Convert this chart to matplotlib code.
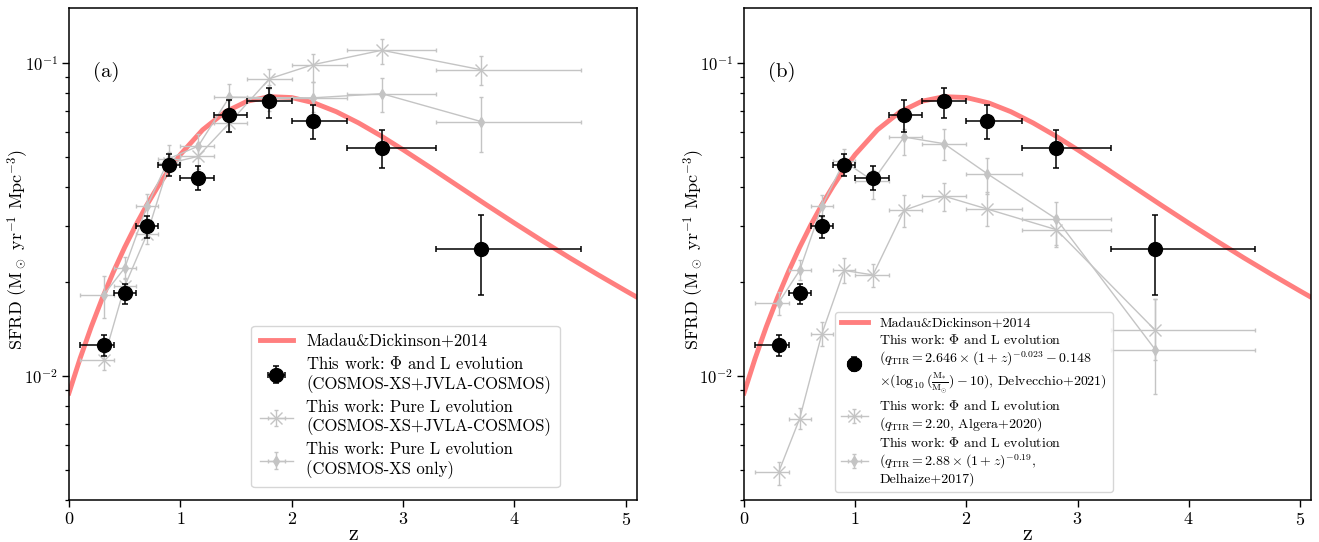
import numpy as np
import matplotlib
matplotlib.use("Agg")
import matplotlib.pyplot as plt
from matplotlib.ticker import NullFormatter

plt.rcParams['font.family'] = ['cmr10', 'DejaVu Serif']
plt.rcParams['mathtext.fontset'] = 'cm'
plt.rcParams['axes.formatter.use_mathtext'] = True
plt.rcParams['axes.unicode_minus'] = False

# redshift bins
z_mid = np.array([0.31, 0.5, 0.7, 0.9, 1.16, 1.44, 1.8, 2.19, 2.81, 3.7])
z_lo = np.array([0.1, 0.4, 0.6, 0.8, 1.0, 1.3, 1.6, 2.0, 2.5, 3.3])
z_hi = np.array([0.4, 0.6, 0.8, 1.0, 1.3, 1.6, 2.0, 2.5, 3.3, 4.6])

# this work: Phi and L evolution (Delvecchio+2021 qTIR)
sfrd_phil = np.array([0.01254, 0.01832, 0.0302, 0.0473, 0.0430, 0.0680, 0.0754, 0.0652, 0.0536, 0.0255])
sfrd_phil_up = np.array([0.01349, 0.01966, 0.0325, 0.0513, 0.0470, 0.0760, 0.0834, 0.0736, 0.0612, 0.0327])
sfrd_phil_lo = np.array([0.01156, 0.0170, 0.0276, 0.0435, 0.0392, 0.0601, 0.0668, 0.0573, 0.0462, 0.01815])

# (a) pure L evolution, COSMOS-XS+JVLA-COSMOS
sfrd_pl_all = np.array([0.01122, 0.0193, 0.0283, 0.0478, 0.0503, 0.0643, 0.0891, 0.0988, 0.1099, 0.0952])
sfrd_pl_all_up = np.array([0.01208, 0.0205, 0.0307, 0.0520, 0.0555, 0.0690, 0.0960, 0.1070, 0.1197, 0.1057])
sfrd_pl_all_lo = np.array([0.01042, 0.0182, 0.0263, 0.0440, 0.0459, 0.0600, 0.0828, 0.0869, 0.0995, 0.0851])

# (a) pure L evolution, COSMOS-XS only
sfrd_pl_xs = np.array([0.0181, 0.0221, 0.0348, 0.0495, 0.0542, 0.0778, 0.0775, 0.0774, 0.0798, 0.0650])
sfrd_pl_xs_up = np.array([0.0208, 0.0239, 0.0382, 0.0545, 0.0595, 0.0855, 0.0850, 0.0870, 0.0897, 0.0778])
sfrd_pl_xs_lo = np.array([0.01524, 0.0204, 0.0318, 0.0455, 0.0496, 0.0706, 0.0700, 0.0697, 0.0697, 0.0519])

# (b) Phi and L evolution, qTIR = 2.20 (Algera+2020)
sfrd_alg = np.array([0.00490, 0.00728, 0.01361, 0.0217, 0.0210, 0.0338, 0.0375, 0.0341, 0.0293, 0.01396])
sfrd_alg_up = np.array([0.0053, 0.00789, 0.01483, 0.0237, 0.0228, 0.0378, 0.0414, 0.0387, 0.0325, 0.0176])
sfrd_alg_lo = np.array([0.00448, 0.00676, 0.01242, 0.0198, 0.0192, 0.0299, 0.0336, 0.0300, 0.0262, 0.0112])

# (b) Phi and L evolution, qTIR = 2.88(1+z)^-0.19 (Delhaize+2017)
sfrd_del = np.array([0.0171, 0.0217, 0.0348, 0.0485, 0.0420, 0.0580, 0.0552, 0.0442, 0.0317, 0.01210])
sfrd_del_up = np.array([0.0185, 0.0234, 0.0378, 0.0530, 0.0454, 0.0616, 0.0616, 0.0498, 0.0360, 0.01762])
sfrd_del_lo = np.array([0.0156, 0.0202, 0.0321, 0.0440, 0.0368, 0.0509, 0.0489, 0.0382, 0.0257, 0.00875])

# Madau & Dickinson 2014 curve
md_z = np.array([0.0, 0.1, 0.2, 0.3, 0.4, 0.5, 0.6, 0.7, 0.8, 0.9, 1.0, 1.2, 1.4, 1.6, 1.8, 2.0,
                 2.2, 2.4, 2.6, 2.8, 3.0, 3.25, 3.5, 3.75, 4.0, 4.25, 4.5, 4.75, 5.0, 5.1])
md_sfrd = np.array([0.00880, 0.01136, 0.01433, 0.01772, 0.02152, 0.02573, 0.03030, 0.03520,
                    0.04035, 0.04565, 0.05097, 0.06114, 0.06967, 0.07548, 0.07808, 0.07756,
                    0.07457, 0.06989, 0.06435, 0.05853, 0.05281, 0.04619, 0.04029, 0.03516,
                    0.03076, 0.02699, 0.02377, 0.02103, 0.01867, 0.01782])

GREY = '#c4c4c4'


def errs(y, lo, up):
    return [y - lo, up - y]


def draw_common(ax):
    ax.plot(md_z, md_sfrd, color='#ff7f7f', lw=3.5, zorder=1, label='Madau&Dickinson+2014')


def draw_black(ax, label):
    ax.errorbar(z_mid, sfrd_phil, xerr=[z_mid - z_lo, z_hi - z_mid],
                yerr=errs(sfrd_phil, sfrd_phil_lo, sfrd_phil_up),
                fmt='o', color='k', ms=10, elinewidth=1.1, capsize=2, capthick=1.1,
                zorder=5, label=label)


def draw_grey(ax, y, lo, up, marker, ms, label):
    ax.errorbar(z_mid, y, xerr=[z_mid - z_lo, z_hi - z_mid], yerr=errs(y, lo, up),
                fmt='-', marker=marker, ms=ms, color=GREY, lw=1, elinewidth=1,
                capsize=1.5, zorder=3, label=label)


def style_axis(ax, tag):
    ax.set_yscale('log')
    ax.set_xlim(0, 5.1)
    ax.set_ylim(0.004, 0.15)
    ax.set_xlabel('z', fontsize=16)
    ax.set_ylabel(r'SFRD (M$_\odot$ yr$^{-1}$ Mpc$^{-3}$)', fontsize=13)
    ax.xaxis.set_label_coords(0.5, -0.05)
    ax.yaxis.set_label_coords(-0.066, 0.51)
    ax.tick_params(axis='x', which='major', labelsize=13, length=5, width=1, pad=3)
    ax.tick_params(axis='y', which='major', labelsize=12, length=5, width=1, pad=3)
    ax.tick_params(axis='y', which='minor', length=3, width=0.9)
    ax.yaxis.set_minor_formatter(NullFormatter())
    ax.set_xticks([0, 1, 2, 3, 4, 5])
    for s in ax.spines.values():
        s.set_linewidth(1.1)
    ax.text(0.042, 0.86, tag, transform=ax.transAxes, fontsize=15)


fig = plt.figure(figsize=(13.19, 5.42), dpi=100)
ax1 = fig.add_axes([0.0523, 0.0775, 0.4306, 0.9077])
ax2 = fig.add_axes([0.5641, 0.0775, 0.4298, 0.9077])

# panel (a)
draw_common(ax1)
draw_grey(ax1, sfrd_pl_all, sfrd_pl_all_lo, sfrd_pl_all_up, 'x', 8,
          'This work: Pure L evolution\n(COSMOS-XS+JVLA-COSMOS)')
draw_grey(ax1, sfrd_pl_xs, sfrd_pl_xs_lo, sfrd_pl_xs_up, 'd', 5,
          'This work: Pure L evolution\n(COSMOS-XS only)')
draw_black(ax1, 'This work: $\\Phi$ and L evolution\n(COSMOS-XS+JVLA-COSMOS)')
style_axis(ax1, '(a)')
h, l = ax1.get_legend_handles_labels()
order = [0, 3, 1, 2]
ax1.legend([h[i] for i in order], [l[i] for i in order], loc='lower right',
           bbox_to_anchor=(0.864, 0.026), borderaxespad=0, fontsize=12,
           labelspacing=0.35, handlelength=2.0, borderpad=0.5)

# panel (b)
draw_common(ax2)
draw_grey(ax2, sfrd_alg, sfrd_alg_lo, sfrd_alg_up, 'x', 8,
          'This work: $\\Phi$ and L evolution\n($q_{\\rm TIR}=2.20$, Algera+2020)')
draw_grey(ax2, sfrd_del, sfrd_del_lo, sfrd_del_up, 'd', 5,
          'This work: $\\Phi$ and L evolution\n($q_{\\rm TIR}=2.88\\times(1+z)^{-0.19}$,\nDelhaize+2017)')
draw_black(ax2, 'This work: $\\Phi$ and L evolution\n'
                '($q_{\\rm TIR}=2.646\\times(1+z)^{-0.023}-0.148$\n'
                '$\\times(\\log_{10}(\\frac{\\rm M_{*}}{\\rm M_{\\odot}})-10)$, Delvecchio+2021)')
style_axis(ax2, '(b)')
h, l = ax2.get_legend_handles_labels()
ax2.legend([h[i] for i in order], [l[i] for i in order], loc='lower left',
           bbox_to_anchor=(0.1605, 0.0163), borderaxespad=0, fontsize=10,
           labelspacing=0.2, handlelength=2.0, borderpad=0.4)

fig.savefig('out.png', dpi=100)
